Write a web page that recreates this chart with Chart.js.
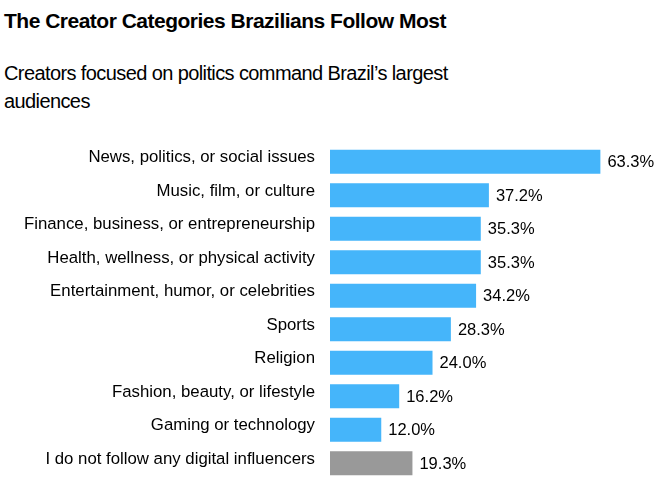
<!DOCTYPE html>
<html>
<head>
<meta charset="utf-8">
<script src="https://cdn.jsdelivr.net/npm/chart.js@4.4.1/dist/chart.umd.min.js"></script>
<style>
  html, body { margin: 0; padding: 0; background: #fff; }
  body { width: 659px; height: 482px; position: relative; overflow: hidden; font-family: "Liberation Sans", Arial, sans-serif; color: #000; }
  #title { position: absolute; left: 4px; top: 10px; font-size: 21px; line-height: 21px; font-weight: bold; letter-spacing: -0.5px; white-space: nowrap; }
  #subtitle { position: absolute; left: 4px; top: 59px; font-size: 20px; line-height: 28px; letter-spacing: -0.6px; white-space: nowrap; }
  #wrap { position: absolute; left: 0; top: 140px; width: 659px; height: 342px; }
</style>
</head>
<body>
<div id="title">The Creator Categories Brazilians Follow Most</div>
<div id="subtitle">Creators focused on politics command Brazil’s largest<br>audiences</div>
<div id="wrap"><canvas id="c"></canvas></div>
<script>
const categories = [
  "News, politics, or social issues",
  "Music, film, or culture",
  "Finance, business, or entrepreneurship",
  "Health, wellness, or physical activity",
  "Entertainment, humor, or celebrities",
  "Sports",
  "Religion",
  "Fashion, beauty, or lifestyle",
  "Gaming or technology",
  "I do not follow any digital influencers"
];
const shares = [63.3, 37.2, 35.3, 35.3, 34.2, 28.3, 24.0, 16.2, 12.0, 19.3];

const BLUE = "#45b5fa";
const GRAY = "#999999";
const FONT = "'Liberation Sans', Arial, sans-serif";

const valueLabels = {
  id: "valueLabels",
  afterDatasetsDraw(chart) {
    const ctx = chart.ctx;
    const meta = chart.getDatasetMeta(0);
    ctx.save();
    ctx.font = "16.5px " + FONT;
    ctx.fillStyle = "#000";
    ctx.textAlign = "left";
    ctx.textBaseline = "middle";
    meta.data.forEach((bar, i) => {
      const v = chart.data.datasets[0].data[i];
      ctx.fillText(v.toFixed(1) + "%", bar.x + 7, bar.y + 1);
    });
    ctx.restore();
  }
};

new Chart(document.getElementById("c"), {
  type: "bar",
  data: {
    labels: categories,
    datasets: [{
      data: shares,
      backgroundColor: (c) => c.dataIndex === categories.length - 1 ? GRAY : BLUE,
      borderWidth: 0,
      barPercentage: 0.72,
      categoryPercentage: 1.0
    }]
  },
  options: {
    indexAxis: "y",
    responsive: true,
    maintainAspectRatio: false,
    animation: false,
    layout: { padding: { top: 5, bottom: 2, left: 0, right: 30 } },
    plugins: { legend: { display: false }, tooltip: { enabled: false }, title: { display: false } },
    scales: {
      x: { display: false, min: 0, max: 70 },
      y: {
        grid: { display: false, drawTicks: false },
        border: { display: false },
        ticks: {
          color: "#000",
          font: { family: FONT, size: 16.8 },
          padding: 15,
          labelOffset: -4,
          autoSkip: false
        },
        afterFit(scale) {
          scale.width = 330;
          scale.paddingTop = 0;
          scale.paddingBottom = 0;
        }
      }
    }
  },
  plugins: [valueLabels]
});
</script>
</body>
</html>
